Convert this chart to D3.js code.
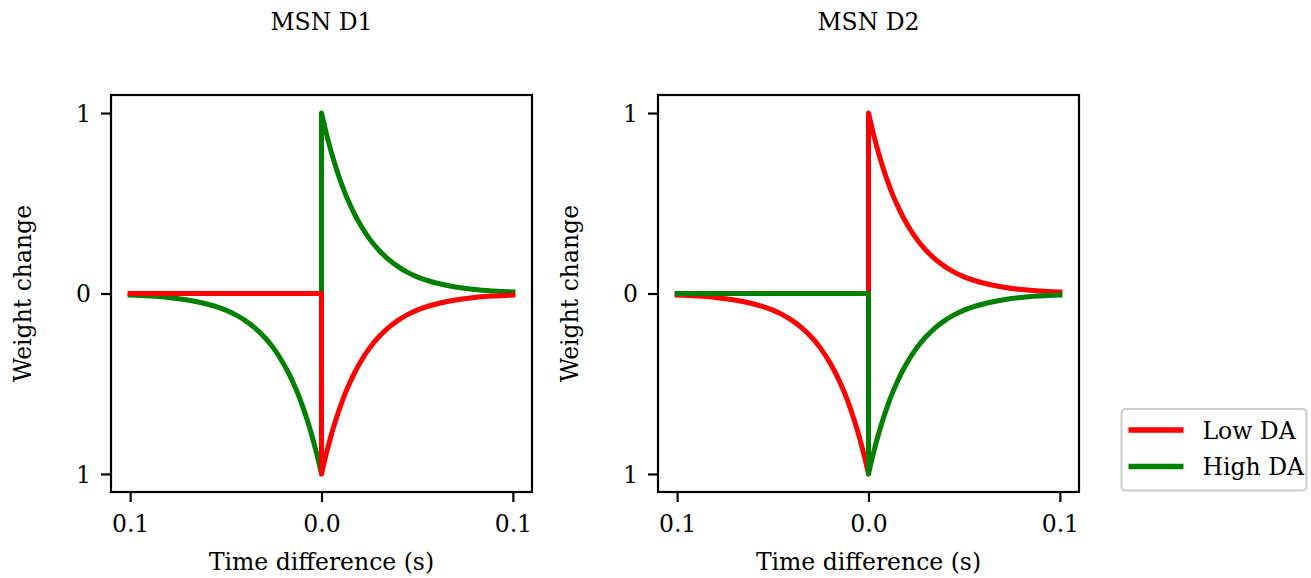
<!DOCTYPE html>
<html>
<head>
<meta charset="utf-8">
<script src="https://cdn.jsdelivr.net/npm/d3@7"></script>
<style>
  html, body { margin: 0; padding: 0; background: #fff; }
  svg { display: block; font-family: "DejaVu Serif", "Liberation Serif", serif; }
</style>
</head>
<body>
<div id="chart"></div>
<script>
const panelTitles = ['MSN D1', 'MSN D2'];
const seriesNames = ['Low DA', 'High DA'];
const seriesColors = ['#ff0000', '#008000'];

const xTicks = [-0.1, 0.0, 0.1];
const yTicks = [-1, 0, 1];

const tPre = [-0.1, -0.09, -0.08, -0.07, -0.06, -0.05, -0.045, -0.04, -0.035, -0.03, -0.025, -0.02, -0.0175, -0.015, -0.0125, -0.01, -0.0075, -0.005, -0.0025, 0];
const tPost = [0, 0.0025, 0.005, 0.0075, 0.01, 0.0125, 0.015, 0.0175, 0.02, 0.025, 0.03, 0.035, 0.04, 0.045, 0.05, 0.06, 0.07, 0.08, 0.09, 0.1];

const flatPre = [0, 0, 0, 0, 0, 0, 0, 0, 0, 0, 0, 0, 0, 0, 0, 0, 0, 0, 0, 0];
const ltdPre = [-0.0086, -0.014, -0.022, -0.036, -0.058, -0.092, -0.117, -0.149, -0.189, -0.240, -0.304, -0.386, -0.435, -0.490, -0.551, -0.621, -0.700, -0.788, -0.888, -1];
const ltpPost = [1, 0.888, 0.788, 0.700, 0.621, 0.551, 0.490, 0.435, 0.386, 0.304, 0.240, 0.189, 0.149, 0.117, 0.092, 0.058, 0.036, 0.022, 0.014, 0.0086];
const ltdPost = [-1, -0.888, -0.788, -0.700, -0.621, -0.551, -0.490, -0.435, -0.386, -0.304, -0.240, -0.189, -0.149, -0.117, -0.092, -0.058, -0.036, -0.022, -0.014, -0.0086];

// per panel: [Low DA, High DA]
const panelPre = [[flatPre, ltdPre], [ltdPre, flatPre]];
const panelPost = [[ltdPost, ltpPost], [ltpPost, ltdPost]];

const W = 1311, H = 578;
const FS = 23.5;
const svg = d3.select('#chart').append('svg')
  .attr('width', W)
  .attr('height', H);

const panelLeft = [111, 658];
const panelW = 421;
const axTop = 95, axBottom = 492;

const y = d3.scaleLinear().domain([-1.1, 1.1]).range([axBottom, axTop]);
const fmt = v => Math.abs(v).toFixed(1);

panelTitles.forEach((title, p) => {
  const x = d3.scaleLinear().domain([-0.11, 0.11]).range([panelLeft[p], panelLeft[p] + panelW]);
  const g = svg.append('g');

  const line = d3.line()
    .x(d => x(d[0]))
    .y(d => y(d[1]))
    .curve(d3.curveMonotoneX);

  // flat one is drawn last
  const order = panelPre[p][0] === flatPre ? [1, 0] : [0, 1];
  order.forEach(i => {
    const pre = line(tPre.map((t, k) => [t, panelPre[p][i][k]]));
    const post = line(tPost.map((t, k) => [t, panelPost[p][i][k]]));
    g.append('path')
      .attr('d', pre + 'L' + post.slice(1))
      .attr('fill', 'none')
      .attr('stroke', seriesColors[i])
      .attr('stroke-width', 5)
      .attr('stroke-linejoin', 'round')
      .attr('stroke-linecap', 'square');
  });

  // frame
  g.append('rect')
    .attr('x', panelLeft[p])
    .attr('y', axTop)
    .attr('width', panelW)
    .attr('height', axBottom - axTop)
    .attr('fill', 'none')
    .attr('stroke', '#000')
    .attr('stroke-width', 2.2);

  const xAxis = g.append('g')
    .attr('transform', `translate(0,${axBottom})`)
    .call(d3.axisBottom(x).tickValues(xTicks).tickFormat(fmt).tickSize(10).tickPadding(8));
  const yAxis = g.append('g')
    .attr('transform', `translate(${panelLeft[p]},0)`)
    .call(d3.axisLeft(y).tickValues(yTicks).tickFormat(v => String(Math.abs(v))).tickSize(10).tickPadding(10));
  [xAxis, yAxis].forEach(a => {
    a.select('.domain').remove();
    a.selectAll('.tick line').attr('stroke', '#000').attr('stroke-width', 2.2);
    a.selectAll('.tick text')
      .attr('fill', '#000')
      .attr('font-size', FS)
      .attr('font-family', '"DejaVu Serif", serif');
  });
  xAxis.selectAll('.tick text').attr('dy', null).attr('y', 40);
  yAxis.selectAll('.tick text').attr('dy', '0.36em');

  const cx = panelLeft[p] + panelW / 2;
  g.append('text')
    .attr('x', cx)
    .attr('y', 29.5)
    .attr('text-anchor', 'middle')
    .attr('font-size', FS)
    .text(title);
  g.append('text')
    .attr('x', cx)
    .attr('y', 569.5)
    .attr('text-anchor', 'middle')
    .attr('font-size', FS)
    .text('Time difference (s)');
  g.append('text')
    .attr('transform', `translate(${panelLeft[p] - 80},${(axTop + axBottom) / 2}) rotate(-90)`)
    .attr('text-anchor', 'middle')
    .attr('font-size', FS)
    .text('Weight change');
});

// Legend
const lg = svg.append('g').attr('transform', 'translate(1121.5,409)');
lg.append('rect')
  .attr('width', 185)
  .attr('height', 81.5)
  .attr('rx', 4)
  .attr('fill', '#fff')
  .attr('stroke', '#cccccc')
  .attr('stroke-width', 2);
seriesNames.forEach((name, i) => {
  const ly = 21 + i * 36.5;
  lg.append('line')
    .attr('x1', 7).attr('x2', 62)
    .attr('y1', ly).attr('y2', ly)
    .attr('stroke', seriesColors[i])
    .attr('stroke-width', 5.5);
  lg.append('text')
    .attr('x', 81)
    .attr('y', ly + 8.5)
    .attr('font-size', FS)
    .text(name);
});
</script>
</body>
</html>
